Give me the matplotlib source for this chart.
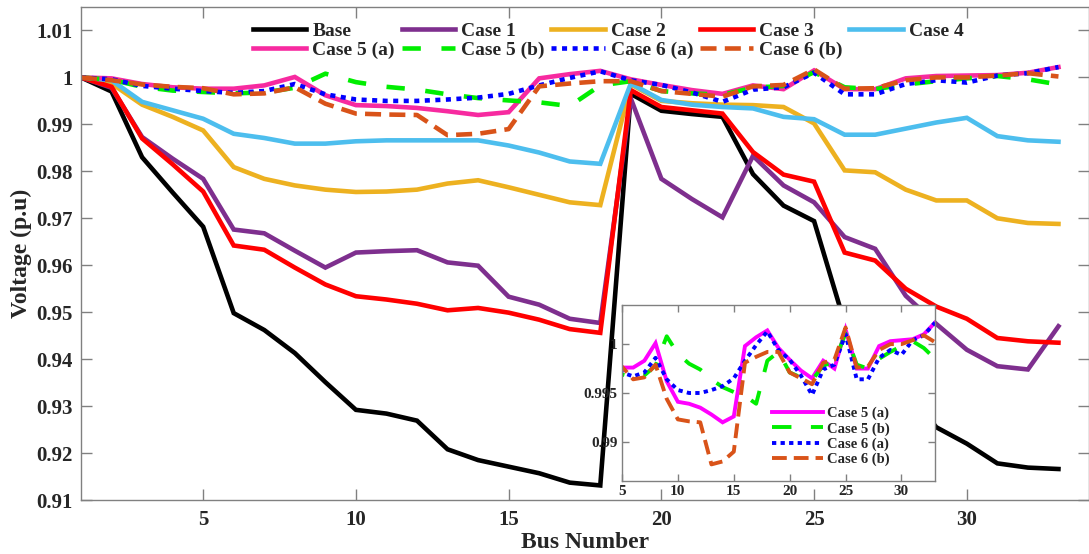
import numpy as np
import matplotlib.pyplot as plt

buses = np.arange(1, 34)

base = [1.0000, 0.9970, 0.9830, 0.9755, 0.9682, 0.9498, 0.9462, 0.9413, 0.9351, 0.9292, 0.9284,
        0.9269, 0.9208, 0.9185, 0.9171, 0.9157, 0.9137, 0.9131, 0.9965, 0.9929, 0.9922, 0.9916,
        0.9794, 0.9727, 0.9694, 0.9477, 0.9452, 0.9337, 0.9255, 0.9220, 0.9178, 0.9169, 0.9166]
case1 = [1.0000, 0.9978, 0.9873, 0.9827, 0.9784, 0.9676, 0.9668, 0.9631, 0.9595, 0.9627, 0.9630,
         0.9632, 0.9606, 0.9599, 0.9533, 0.9516, 0.9486, 0.9477, 0.9955, 0.9784, 0.9741, 0.9702,
         0.9833, 0.9770, 0.9734, 0.9660, 0.9635, 0.9535, 0.9475, 0.9420, 0.9385, 0.9378, 0.9470]
case2 = [1.0000, 0.9987, 0.9942, 0.9916, 0.9887, 0.9809, 0.9784, 0.9770, 0.9761, 0.9756, 0.9757,
         0.9761, 0.9774, 0.9781, 0.9766, 0.9750, 0.9734, 0.9728, 0.9985, 0.9950, 0.9945, 0.9942,
         0.9941, 0.9937, 0.9902, 0.9802, 0.9798, 0.9761, 0.9738, 0.9738, 0.9700, 0.9690, 0.9688]
case3 = [1.0000, 0.9980, 0.9870, 0.9815, 0.9757, 0.9642, 0.9633, 0.9595, 0.9559, 0.9534, 0.9527,
         0.9518, 0.9504, 0.9509, 0.9499, 0.9484, 0.9464, 0.9456, 0.9973, 0.9937, 0.9930, 0.9923,
         0.9841, 0.9793, 0.9778, 0.9627, 0.9610, 0.9550, 0.9512, 0.9486, 0.9445, 0.9438, 0.9435]
case4 = [1.0000, 0.9994, 0.9948, 0.9930, 0.9912, 0.9880, 0.9871, 0.9859, 0.9859, 0.9864, 0.9866,
         0.9866, 0.9866, 0.9866, 0.9855, 0.9840, 0.9821, 0.9816, 0.9987, 0.9952, 0.9942, 0.9937,
         0.9934, 0.9916, 0.9911, 0.9878, 0.9878, 0.9891, 0.9904, 0.9914, 0.9875, 0.9866, 0.9863]
case5a = [1.0000, 0.9998, 0.9986, 0.9979, 0.9976, 0.9976, 0.9983, 1.0001, 0.9962, 0.9941, 0.9939,
          0.9935, 0.9928, 0.9920, 0.9926, 0.9998, 1.0007, 1.0014, 0.9996, 0.9984, 0.9973, 0.9965,
          0.9983, 0.9975, 1.0015, 0.9975, 0.9975, 0.9998, 1.0003, 1.0004, 1.0005, 1.0010, 1.0022]
case5b = [1.0000, 0.9995, 0.9980, 0.9972, 0.9969, 0.9966, 0.9968, 0.9978, 1.0008, 0.9990, 0.9980,
          0.9974, 0.9964, 0.9956, 0.9951, 0.9947, 0.9939, 0.9983, 0.9992, 0.9971, 0.9966, 0.9963,
          0.9978, 0.9982, 1.0011, 0.9979, 0.9975, 0.9985, 0.9992, 0.9998, 1.0003, 0.9996, 0.9985]
case6a = [1.0000, 0.9996, 0.9982, 0.9976, 0.9971, 0.9967, 0.9971, 0.9986, 0.9964, 0.9953, 0.9950,
          0.9950, 0.9953, 0.9957, 0.9965, 0.9983, 0.9999, 1.0013, 0.9994, 0.9984, 0.9968, 0.9948,
          0.9974, 0.9979, 1.0010, 0.9964, 0.9964, 0.9986, 0.9994, 0.9989, 1.0004, 1.0009, 1.0022]
case6b = [1.0000, 0.9994, 0.9985, 0.9980, 0.9977, 0.9964, 0.9966, 0.9979, 0.9944, 0.9923, 0.9921,
          0.9920, 0.9877, 0.9880, 0.9890, 0.9981, 0.9987, 0.9992, 0.9992, 0.9971, 0.9965, 0.9959,
          0.9981, 0.9984, 1.0017, 0.9976, 0.9977, 0.9994, 1.0000, 1.0000, 1.0004, 1.0009, 1.0002]

x_ticks = [5, 10, 15, 20, 25, 30]
y_ticks = [0.91, 0.92, 0.93, 0.94, 0.95, 0.96, 0.97, 0.98, 0.99, 1.00, 1.01]
inset_y_ticks = [0.99, 0.995, 1.0]

plt.rcParams['font.family'] = ['Liberation Serif', 'DejaVu Serif']
plt.rcParams['font.weight'] = 'bold'

TEXT = '#262626'
EDGE = '#808080'

# label, values, colour, dash pattern (None = solid)
series = [
    ("Base", base, "black", None),
    ("Case 1", case1, "#7E2F8E", None),
    ("Case 2", case2, "#EDB120", None),
    ("Case 3", case3, "#FF0000", None),
    ("Case 4", case4, "#4DBEEE", None),
    ("Case 5 (a)", case5a, "#F72AA0", None),
    ("Case 5 (b)", case5b, "#00EE00", (4, 4.5)),
    ("Case 6 (a)", case6a, "#0000FF", (1.1, 1.2)),
    ("Case 6 (b)", case6b, "#D95319", (3.5, 1.8)),
]


def style_axes(ax, size, pad_x, pad_y, length):
    for sp in ax.spines.values():
        sp.set_color(EDGE)
        sp.set_linewidth(1.0)
    ax.tick_params(direction="in", top=True, right=True, color=EDGE,
                   labelcolor=TEXT, labelsize=size, length=length, width=1.0)
    ax.tick_params(axis="x", pad=pad_x)
    ax.tick_params(axis="y", pad=pad_y)
    for lab in ax.get_xticklabels() + ax.get_yticklabels():
        lab.set_fontweight("bold")


fig = plt.figure(figsize=(10.89, 5.54), dpi=100)
ax = fig.add_axes([81 / 1089, 54 / 554, 1008 / 1089, 493 / 554])

lines = {}
for label, values, color, dashes in series:
    ln, = ax.plot(buses, values, color=color, lw=3.3, label=label,
                  solid_joinstyle="miter", dash_capstyle="butt")
    if dashes:
        ln.set_dashes(dashes)
    lines[label] = ln

ax.set_xlim(1, 34)
ax.set_ylim(0.91, 1.015)
ax.set_xticks(x_ticks)
ax.set_yticks(y_ticks)
ax.set_yticklabels([f"{v:g}" for v in y_ticks])
style_axes(ax, 15, 7, 6, 8)
ax.set_xlabel("Bus Number", fontsize=17, fontweight="bold", color=TEXT, labelpad=2)
ax.set_ylabel("Voltage (p.u)", fontsize=17, fontweight="bold", color=TEXT, labelpad=3)

# matplotlib fills legend columns first, so interleave to get the row order
order = ["Base", "Case 5 (a)", "Case 1", "Case 5 (b)", "Case 2",
         "Case 6 (a)", "Case 3", "Case 6 (b)", "Case 4"]
leg = ax.legend([lines[k] for k in order], order, ncol=5, loc="upper left",
                bbox_to_anchor=(253 / 1089, 1 - 22 / 554), bbox_transform=fig.transFigure,
                frameon=False, prop={"size": 14, "weight": "bold"},
                handlelength=2.75, handletextpad=0.3, columnspacing=0.35,
                labelspacing=0.1, borderpad=0, borderaxespad=0)
for t in leg.get_texts():
    t.set_color(TEXT)

# zoomed inset for the compensated cases
axin = fig.add_axes([622 / 1089, 73 / 554, 313 / 1089, 176 / 554])
axin.set_facecolor("white")
inset_series = [
    ("Case 5 (a)", case5a, "#FF00FF", None),
    ("Case 5 (b)", case5b, "#00EE00", (5, 5)),
    ("Case 6 (a)", case6a, "#0000FF", (1.1, 1.1)),
    ("Case 6 (b)", case6b, "#D95319", (3.8, 1.8)),
]
for label, values, color, dashes in inset_series:
    ln, = axin.plot(buses, values, color=color, lw=2.8, label=label,
                    solid_joinstyle="miter", dash_capstyle="butt")
    if dashes:
        ln.set_dashes(dashes)
axin.set_xlim(5, 33)
axin.set_ylim(0.986, 1.004)
axin.set_xticks(x_ticks)
axin.set_yticks(inset_y_ticks)
axin.set_yticklabels([f"{v:g}" for v in inset_y_ticks])
style_axes(axin, 11, 3, 3, 5)
leg2 = axin.legend(loc="upper left", bbox_to_anchor=(772 / 1089, 1 - 407 / 554),
                   bbox_transform=fig.transFigure, frameon=False,
                   prop={"size": 10.5, "weight": "bold"}, handlelength=3.5,
                   handletextpad=0.3, labelspacing=0.12, borderpad=0, borderaxespad=0)
for t in leg2.get_texts():
    t.set_color(TEXT)

fig.savefig("out.png", dpi=100)
